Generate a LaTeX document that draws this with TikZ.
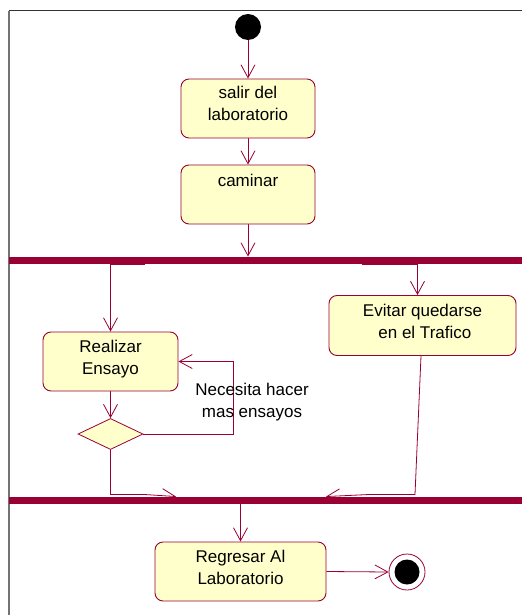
\documentclass[tikz,border=0pt]{standalone}
\usepackage{fontspec}
\setmainfont{Liberation Sans}
\usetikzlibrary{arrows.meta,shapes.geometric}
\definecolor{rose}{HTML}{990033}
\definecolor{actfill}{HTML}{FFFFCC}
\pgfdeclarelayer{bg}
\pgfsetlayers{bg,main}
\begin{document}
\begin{tikzpicture}[x=1pt,y=-1pt,
  font=\fontsize{17}{22}\selectfont,
  act/.style={draw=rose, fill=actfill, rounded corners=8pt, line width=0.9pt,
    align=center, inner sep=0pt},
  twoline/.style={text height=34pt, text depth=9pt},
  oneline/.style={text height=13pt, text depth=29pt},
  flow/.style={draw=rose, line width=0.8pt,
    -{Straight Barb[length=13pt,width=14pt,line width=0.8pt]}},
  syncbar/.style={fill=rose, draw=none, minimum height=7.5pt,
    minimum width=513pt, inner sep=0pt},
  decision/.style={diamond, draw=rose, fill=actfill, line width=0.8pt,
    minimum width=65pt, minimum height=31pt, inner sep=0pt},
  frameline/.style={draw=black!55, line width=1.8pt}]

\useasboundingbox (0,0) rectangle (522,615);

% page frame
\draw[frameline] (9,615) -- (9,11);
\draw[draw=black!80, line width=1pt] (9,11) -- (522,11);

% initial and final states
\node[circle, fill=black, minimum size=26pt, inner sep=0pt] (start) at (248,27) {};
\node[circle, draw=rose, fill=white, minimum size=36pt, inner sep=0pt, line width=0.8pt,
  path picture={\fill[black] (path picture bounding box.center) circle (12.5pt);}]
  (end) at (407,572) {};

% activities
\node[act, twoline, minimum width=134pt, minimum height=59pt] (salir) at (248,108.5)
  {salir del\\laboratorio};
\node[act, oneline, minimum width=134pt, minimum height=59pt] (cam) at (248,194.5)
  {caminar};
\node[act, twoline, minimum width=135pt, minimum height=59pt] (rea) at (110.5,361.5)
  {Realizar\\Ensayo};
\node[act, twoline, minimum width=187pt, minimum height=60pt] (evi) at (422.5,325.5)
  {Evitar quedarse\\\ en el Trafico};
\node[act, twoline, minimum width=171pt, minimum height=59pt] (reg) at (240.5,571.5)
  {Regresar Al\\Laboratorio};
\node[decision] (dec) at (110.5,434) {};

% fork and join bars
\node[syncbar] (fork) at (265.5,260.5) {};
\node[syncbar] (join) at (265.5,500.5) {};

% guard label of the loop
\node[align=center] (lbl) at (252,402.5) {Necesita hacer\\mas ensayos};

\begin{pgfonlayer}{bg}
  \draw[flow] (start) -- (salir);
  \draw[flow] (salir) -- (cam);
  \draw[flow] (cam.south) -- (cam.south |- fork.north);
  \draw[flow] ([xshift=-120.5pt]fork.south) -| (rea.north);
  \draw[flow] ([xshift=96.5pt]fork.south) -| ([xshift=-5pt]evi.north);
  \draw[flow] (rea) -- (dec);
  \draw[flow] (dec.east) -- ++(90,0) |- (rea.east);
  \draw[flow] (dec.south) -- ++(0,44.5) -- ++(32.5,0) -- ([xshift=-89.5pt]join.north);
  \draw[flow] ([xshift=-1.5pt]evi.south) -- ++(-6,138.5) -- ++(-45,0)
    -- ([xshift=60.5pt]join.north);
  \draw[flow] (reg.north |- join.south) -- (reg.north);
  \draw[flow] (reg.east) -- (end.west);
\end{pgfonlayer}
\end{tikzpicture}
\end{document}
